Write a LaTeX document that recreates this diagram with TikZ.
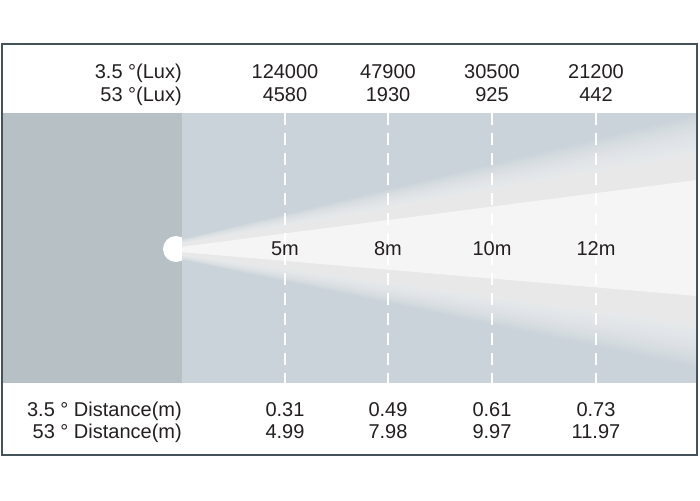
\documentclass[tikz,border=0pt]{standalone}
\usepackage{fontspec}
\setmainfont{Liberation Sans}
\usetikzlibrary{positioning}

\definecolor{frameline}{HTML}{44535A}
\definecolor{housing}{HTML}{B6C0C5}
\definecolor{bandbg}{HTML}{C9D3D9}
\definecolor{beamwhite}{HTML}{F6F5F6}
\definecolor{txt}{HTML}{231F20}

\begin{document}
\begin{tikzpicture}[
    x=1pt, y=-1pt,
    font=\fontsize{20}{23}\selectfont,
    val/.style={anchor=base, text=txt, inner sep=0pt},
    lbl/.style={anchor=base east, text=txt, inner sep=0pt},
    distline/.style={white, line width=2pt, dash pattern=on 12pt off 8pt},
    beamlayer/.style={fill=beamwhite, fill opacity=0.075}
]
\useasboundingbox (0,0) rectangle (700,500);
\fill[white] (0,0) rectangle (700,500);

% Grey band with lamp housing
\fill[bandbg] (2,113) rectangle (697,383);
\fill[housing] (2,113) rectangle (182,383);

% Lamp head
\begin{scope}
\clip (150,200) rectangle (182,300);
\fill[white] (176,249) circle[radius=13];
\end{scope}

% Light beam (soft edges by stacked layers)
\begin{scope}
\clip (182,113) rectangle (697,383);
\foreach \i in {1,...,30} {
  \fill[beamlayer] (180,{247-0.25*\i}) -- (697,{178-2.1*\i}) -- (697,{298+2.3*\i}) -- (180,{252+0.25*\i}) -- cycle;
}
\fill[beamwhite] (180,247) -- (697,180) -- (697,296) -- (180,252) -- cycle;
\end{scope}

% Row labels
\node[lbl] (luxlblA) at (182,79) {3.5 °(Lux)};
\node[lbl] (luxlblB) at (182,102) {53 °(Lux)};
\node[lbl] (distlblA) at (182,416) {3.5 ° Distance(m)};
\node[lbl] (distlblB) at (182,438) {53 ° Distance(m)};

% Measuring points
\foreach \xx/\dist/\luxa/\luxb/\dista/\distb [count=\k] in {
    285/5m/124000/4580/0.31/4.99,
    388/8m/47900/1930/0.49/7.98,
    492/10m/30500/925/0.61/9.97,
    596/12m/21200/442/0.73/11.97} {
  \draw[distline] (\xx,113) -- (\xx,383);
  \node[val] (luxA\k) at (\xx,79) {\luxa};
  \node[val] (luxB\k) at (\xx,102) {\luxb};
  \node[val] (dist\k) at (\xx,255) {\dist};
  \node[val] (distA\k) at (\xx,416) {\dista};
  \node[val] (distB\k) at (\xx,438) {\distb};
}

% Frame
\draw[frameline, line width=1.8pt] (2,44) rectangle (697,455);

\end{tikzpicture}
\end{document}
